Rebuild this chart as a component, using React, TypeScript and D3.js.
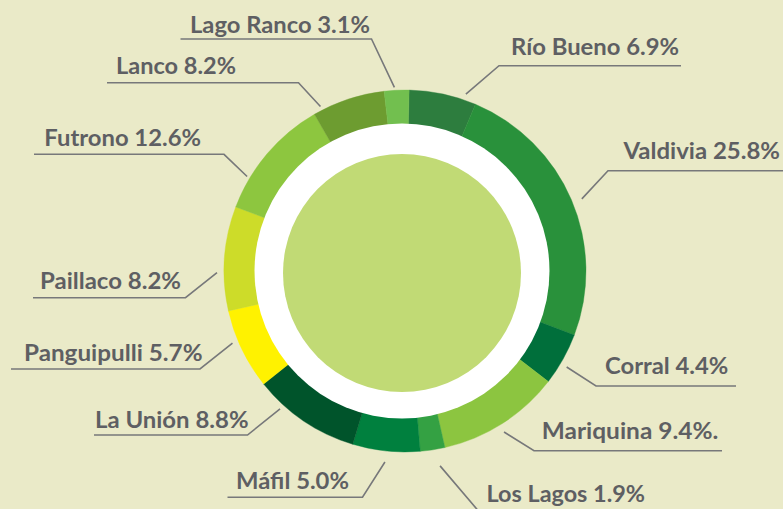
import React, { useEffect } from 'react';
import * as d3 from 'd3';

// Data
const municipalities = ['Río Bueno', 'Valdivia', 'Corral', 'Mariquina', 'Los Lagos', 'Máfil', 'La Unión', 'Panguipulli', 'Paillaco', 'Futrono', 'Lanco', 'Lago Ranco'];
const labelPercents = ['6.9%', '25.8%', '4.4%', '9.4%.', '1.9%', '5.0%', '8.8%', '5.7%', '8.2%', '12.6%', '8.2%', '3.1%'];
// share of the circle each slice occupies in the picture (%)
const drawnShares = [6.0, 24.4, 4.7, 11.0, 2.2, 6.0, 9.6, 7.2, 9.3, 10.9, 6.5, 2.2];
const sliceColors = ['#2d7d3e', '#29913b', '#006f3b', '#8cc540', '#34a143', '#00803e', '#00542b', '#fff200', '#cddc29', '#8dc63f', '#6d9c30', '#72bf4f'];

// Label layout (annotation placement)
const anchorAngles = [19.0, 67.8, 120.7, 148.4, 169.8, 186.0, 222.2, 247.3, 269.5, 300.9, 332.8, 356.7];
const anchorRadii = [187, 191, 188, 189, 198, 192, 186, 187, 188, 184, 185, 184];
const elbowX = [499, 608, 596, 534, 481, 362.5, 247.5, 200, 185.5, 224, 298.5, 371.5];
const elbowY = [65.7, 170.7, 386, 450.7, 514, 497.3, 435, 369, 297.7, 154.3, 82.7, 39];
const lineEndX = [681, 783, 736, 722, 652, 227.5, 94, 11, 33, 34, 107, 180.5];
const textX = [511, 623.5, 605, 541.7, 486.5, 236, 95, 24, 40, 44.3, 116, 190];
const textBaseline = [55, 159.3, 374, 439, 502.3, 489, 427.7, 360.7, 289, 145.7, 74, 33.3];
const textWidth = [168, 156.5, 123.3, 176.6, 158.5, 113, 153.5, 178.5, 141, 156.7, 120, 180];

const W = 783;
const H = 509;
const cx = 405;
const cy = 271;
const outerR = 181;
const deg = Math.PI / 180;

export default function App() {
  useEffect(() => {
    document.body.style.margin = '0';
  }, []);

  const pie = d3
    .pie<number>()
    .sort(null)
    .value((d) => d)
    .startAngle(1.3 * deg)
    .endAngle(361.3 * deg);
  const arcs = pie(drawnShares);
  const arc = d3.arc<d3.PieArcDatum<number>>().innerRadius(138).outerRadius(outerR);

  return (
    <svg width={W} height={H} style={{ position: 'absolute', left: 0, top: 0, display: 'block' }}>
      <rect x={0} y={0} width={W} height={H} fill="#eaeac8" />
      <g transform={`translate(${cx},${cy})`}>
        {arcs.map((a, i) => (
          <path key={i} d={arc(a) || ''} fill={sliceColors[i]} stroke={sliceColors[i]} strokeWidth={0.4} />
        ))}
      </g>
      <circle cx={402} cy={271} r={147.5} fill="#ffffff" />
      <circle cx={402} cy={273} r={119} fill="#c1da75" />
      {municipalities.map((m, i) => {
        const ang = anchorAngles[i] * deg;
        const ax = cx + anchorRadii[i] * Math.sin(ang);
        const ay = cy - anchorRadii[i] * Math.cos(ang);
        const pts: [number, number][] = [
          [ax, ay],
          [elbowX[i], elbowY[i]],
          [lineEndX[i], elbowY[i]],
        ];
        return (
          <g key={m}>
            <path d={d3.line()(pts) || ''} fill="none" stroke="#77787a" strokeWidth={1.6} />
            <text
              x={textX[i]}
              y={textBaseline[i]}
              textLength={textWidth[i]}
              lengthAdjust="spacingAndGlyphs"
              fill="#5e5f63"
              style={{ fontFamily: 'Lato, "Open Sans", sans-serif', fontWeight: 700, fontSize: 22 }}
            >
              {`${m} ${labelPercents[i]}`}
            </text>
          </g>
        );
      })}
    </svg>
  );
}
